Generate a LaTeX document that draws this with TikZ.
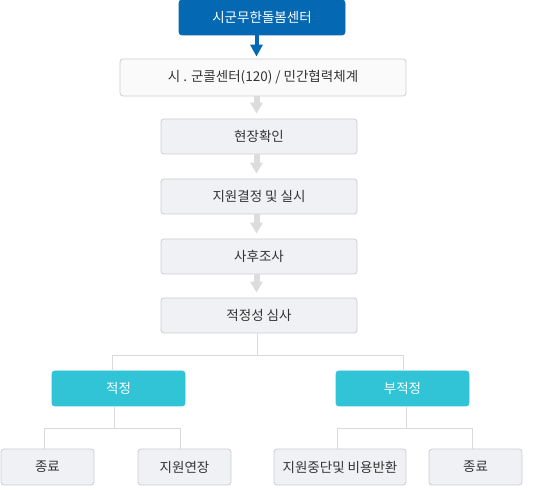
\documentclass[tikz,border=0pt]{standalone}
\usepackage{fontspec}
\setmainfont{Noto Sans CJK KR}
\usetikzlibrary{arrows.meta}
\definecolor{topblue}{HTML}{0568B3}
\definecolor{cyanbox}{HTML}{30C4D6}
\definecolor{greyfill}{HTML}{F0F1F5}
\definecolor{greyline}{HTML}{CDCDD1}
\definecolor{connline}{HTML}{DADADA}
\definecolor{arrowgrey}{HTML}{DCDCDC}
\definecolor{txt}{HTML}{333333}
\tikzset{
  base/.style={rounded corners=3pt, inner sep=0pt, font=\fontsize{13.5}{16}\selectfont, text=txt, line width=0.8pt},
  bluebox/.style={base, fill=topblue, draw=topblue, text=white},
  whitebox/.style={base, fill=white!98!black, draw=greyline},
  greybox/.style={base, fill=greyfill, draw=greyline},
  cyanb/.style={base, fill=cyanbox, draw=cyanbox, text=white},
  conn/.style={draw=connline, line width=0.9pt},
  greyarrow/.style={draw=arrowgrey, line width=6pt, -{Triangle[width=12pt,length=11pt]}, shorten >=5pt},
  bluearrow/.style={draw=topblue, line width=4pt, -{Triangle[width=12pt,length=12pt]}, shorten >=2pt},
}
\begin{document}
\begin{tikzpicture}[x=1pt,y=-1pt]
\useasboundingbox (0,0) rectangle (536,486);
\coordinate (sp) at (256.5,0);
% main column
\node[bluebox, minimum width=166pt, minimum height=35pt] (n1) at (262,17.5) {시군무한돌봄센터};
\node[whitebox, minimum width=286pt, minimum height=37pt] (n2) at (263,77.5) {시 . 군콜센터(120) / 민간협력체계};
\node[greybox, minimum width=196pt, minimum height=35pt] (n3) at (259,136.5) {현장확인};
\node[greybox, minimum width=196pt, minimum height=35pt] (n4) at (259,196.5) {지원결정 및 실시};
\node[greybox, minimum width=196pt, minimum height=35pt] (n5) at (259,256.5) {사후조사};
\node[greybox, minimum width=196pt, minimum height=35pt] (n6) at (259,315.5) {적정성 심사};
% branches
\node[cyanb, minimum width=133pt, minimum height=35pt] (ok) at (118.5,388.5) {적정};
\node[cyanb, minimum width=133pt, minimum height=35pt] (nok) at (402.5,388.5) {부적정};
\node[greybox, minimum width=93pt, minimum height=36pt] (b1) at (47.5,467) {종료};
\node[greybox, minimum width=93pt, minimum height=36pt] (b2) at (184.5,467) {지원연장};
\node[greybox, minimum width=132pt, minimum height=36pt] (b3) at (340,467) {지원중단및 비용반환};
\node[greybox, minimum width=93pt, minimum height=36pt] (b4) at (475.5,467) {종료};
% arrows
\draw[bluearrow] (n1.south -| sp) -- (n2.north -| sp);
\draw[greyarrow] (n2.south -| sp) -- (n3.north -| sp);
\draw[greyarrow] (n3.south -| sp) -- (n4.north -| sp);
\draw[greyarrow] (n4.south -| sp) -- (n5.north -| sp);
\draw[greyarrow] (n5.south -| sp) -- (n6.north -| sp);
% tree connectors level 1
\coordinate (j1) at (257,355);
\coordinate (la) at (112,355);
\coordinate (ra) at (403,355);
\draw[conn] (n6.south -| j1) -- (j1);
\draw[conn] (la) -- (ra);
\draw[conn] (la) -- (ok.north -| la);
\draw[conn] (ra) -- (nok.north -| ra);
% level 2 left
\coordinate (j2) at (114,428);
\coordinate (l1) at (44,428);
\coordinate (l2) at (180,428);
\draw[conn] (ok.south -| j2) -- (j2);
\draw[conn] (l1) -- (l2);
\draw[conn] (l1) -- (b1.north -| l1);
\draw[conn] (l2) -- (b2.north -| l2);
% level 2 right
\coordinate (j3) at (406,428);
\coordinate (r1) at (337,428);
\coordinate (r2) at (472,428);
\draw[conn] (nok.south -| j3) -- (j3);
\draw[conn] (r1) -- (r2);
\draw[conn] (r1) -- (b3.north -| r1);
\draw[conn] (r2) -- (b4.north -| r2);
\end{tikzpicture}
\end{document}
